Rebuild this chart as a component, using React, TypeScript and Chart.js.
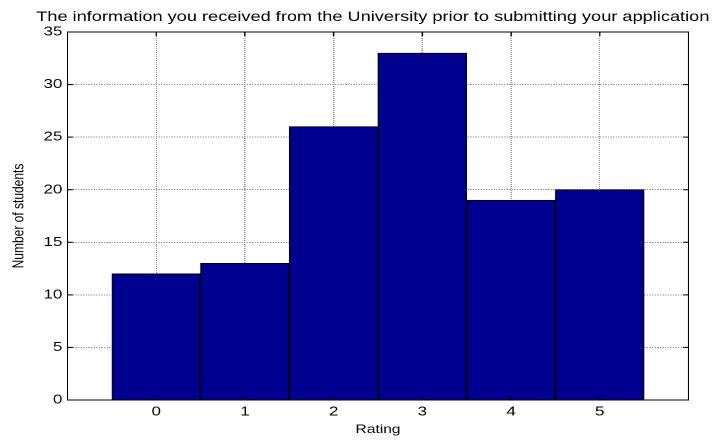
import React, { useEffect, useRef } from 'react';
import { Chart, registerables } from 'chart.js';

Chart.register(...registerables);

// ---- data ----
const TITLE = 'The information you received from the University prior to submitting your application';
const X_LABEL = 'Rating';
const Y_LABEL = 'Number of students';
const ratings = [0, 1, 2, 3, 4, 5];
const students = [12, 13, 26, 33, 19, 20];
const xRange = [-1, 6];
const yRange = [0, 35];
const yStep = 5;

// ---- geometry (the reference is horizontally stretched ~1.3x) ----
const LOGICAL_W = 552;
const LOGICAL_H = 440;
const SX = 717 / LOGICAL_W;
const FONT = '"Liberation Sans", Arial, Helvetica, sans-serif';

const frame = {
  id: 'frame',
  afterDatasetsDraw(chart: any) {
    const { ctx, chartArea } = chart;
    const { left, right, top, bottom } = chartArea;
    const xs = chart.scales.x;
    const ys = chart.scales.y;
    ctx.save();
    ctx.strokeStyle = '#000';
    ctx.lineWidth = 1;
    ctx.setLineDash([]);
    ctx.strokeRect(left, top, right - left, bottom - top);
    const tl = 4;
    ctx.beginPath();
    for (let v = yRange[0]; v <= yRange[1]; v += yStep) {
      const y = ys.getPixelForValue(v);
      ctx.moveTo(left, y);
      ctx.lineTo(left + tl, y);
      ctx.moveTo(right, y);
      ctx.lineTo(right - tl, y);
    }
    for (let v = xRange[0]; v <= xRange[1]; v += 1) {
      const x = xs.getPixelForValue(v);
      ctx.moveTo(x, bottom);
      ctx.lineTo(x, bottom - tl);
      ctx.moveTo(x, top);
      ctx.lineTo(x, top + tl);
    }
    ctx.stroke();
    ctx.restore();
  },
  afterDraw(chart: any) {
    const { ctx, chartArea } = chart;
    ctx.save();
    ctx.fillStyle = '#000';
    ctx.font = `14px ${FONT}`;
    ctx.textAlign = 'center';
    ctx.textBaseline = 'alphabetic';
    ctx.fillText(TITLE, (chartArea.left + chartArea.right) / 2 - 4, 21);
    ctx.restore();
  },
};

export default function App() {
  const ref = useRef<HTMLCanvasElement>(null);

  useEffect(() => {
    if (!ref.current) return;
    const chart = new Chart(ref.current, {
      type: 'bar',
      data: {
        datasets: [
          {
            data: ratings.map((r, i) => ({ x: r, y: students[i] })),
            backgroundColor: '#000090',
            borderColor: '#000000',
            borderWidth: 1,
            barPercentage: 1,
            categoryPercentage: 1,
          },
        ],
      },
      options: {
        responsive: false,
        animation: false,
        devicePixelRatio: 2,
        layout: { padding: { left: 0, top: 32, right: 22, bottom: 0 } },
        plugins: {
          legend: { display: false },
          tooltip: { enabled: false },
          title: { display: false },
        },
        scales: {
          x: {
            type: 'linear',
            min: xRange[0],
            max: xRange[1],
            offset: false,
            grid: { offset: false, color: '#8c8c8c', drawTicks: false, lineWidth: 1 },
            border: { display: false, dash: [1, 1] },
            ticks: {
              stepSize: 1,
              padding: 4,
              color: '#000',
              font: { family: FONT, size: 13 },
              callback: (v: any) => (v >= ratings[0] && v <= ratings[ratings.length - 1] ? String(v) : ''),
            },
            title: {
              display: true,
              text: X_LABEL,
              color: '#000',
              font: { family: FONT, size: 12 },
              padding: { top: 0, bottom: 3 },
            },
            afterFit: (scale: any) => {
              scale.height = 40;
            },
          },
          y: {
            min: yRange[0],
            max: yRange[1],
            grid: { color: '#8c8c8c', drawTicks: false, lineWidth: 1 },
            border: { display: false, dash: [1, 1] },
            ticks: {
              stepSize: yStep,
              padding: 4,
              color: '#000',
              font: { family: FONT, size: 13 },
            },
            title: {
              display: true,
              text: Y_LABEL,
              color: '#000',
              font: { family: FONT, size: 12 },
              padding: { top: 7.5, bottom: 0 },
            },
            afterFit: (scale: any) => {
              scale.width = 52;
            },
          },
        },
      } as any,
      plugins: [frame],
    });
    return () => chart.destroy();
  }, []);

  return (
    <div
      style={{
        position: 'absolute',
        left: 0,
        top: 0,
        width: 717,
        height: 440,
        overflow: 'hidden',
        background: '#fff',
      }}
    >
      <div
        style={{
          width: LOGICAL_W,
          height: LOGICAL_H,
          transform: `scaleX(${SX})`,
          transformOrigin: '0 0',
        }}
      >
        <canvas ref={ref} width={LOGICAL_W} height={LOGICAL_H} />
      </div>
    </div>
  );
}
